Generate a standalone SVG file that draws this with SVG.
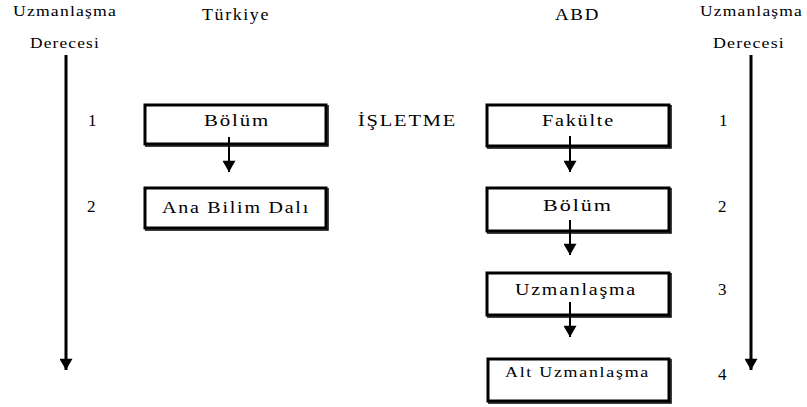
<svg xmlns="http://www.w3.org/2000/svg" width="807" height="407" viewBox="0 0 807 407">
<style>
text{font-family:"Liberation Serif","DejaVu Serif",serif;fill:#000;}
.t{font-size:17px;letter-spacing:1.5px;}
.m{font-size:15.5px;letter-spacing:1.5px;}
.s{font-size:15px;letter-spacing:1px;}
.n{font-size:17px;}
.box{fill:#fff;stroke:#000;stroke-width:3;}
.sh{fill:none;stroke:#000;stroke-width:1.5;}
.ln{stroke:#000;fill:none;}
</style>
<defs>
<marker id="ahv" markerUnits="userSpaceOnUse" markerWidth="14" markerHeight="13" refX="12" refY="7" orient="auto" viewBox="0 0 13 14">
<path d="M0,0 L12,7 L0,14 Z" fill="#000"/>
</marker>
</defs>
<rect width="807" height="407" fill="#fff"/>
<g id="labels">
<text class="s" x="13" y="16" textLength="104" lengthAdjust="spacingAndGlyphs">Uzmanlaşma</text>
<text class="s" x="30" y="48" textLength="70" lengthAdjust="spacingAndGlyphs">Derecesi</text>
<text class="s" x="700" y="16" textLength="103" lengthAdjust="spacingAndGlyphs">Uzmanlaşma</text>
<text class="s" x="713" y="48" textLength="72" lengthAdjust="spacingAndGlyphs">Derecesi</text>
<text class="t" x="202" y="20" textLength="68" lengthAdjust="spacingAndGlyphs">Türkiye</text>
<text class="t" x="555" y="20" textLength="45" lengthAdjust="spacingAndGlyphs">ABD</text>
<text class="t" x="358" y="126" textLength="99" lengthAdjust="spacingAndGlyphs">İŞLETME</text>
<text class="n" x="88" y="126">1</text>
<text class="n" x="87" y="212">2</text>
<text class="n" x="719" y="126">1</text>
<text class="n" x="718" y="212">2</text>
<text class="n" x="718" y="295">3</text>
<text class="n" x="718" y="380">4</text>
</g>
<g id="connectors">
<line class="ln" x1="66" y1="55" x2="66" y2="370" stroke-width="3" marker-end="url(#ahv)"/>
<line class="ln" x1="751" y1="55" x2="751" y2="370" stroke-width="3" marker-end="url(#ahv)"/>
<line class="ln" x1="229" y1="137" x2="229" y2="172" stroke-width="2" marker-end="url(#ahv)"/>
<line class="ln" x1="570" y1="136" x2="570" y2="172" stroke-width="2" marker-end="url(#ahv)"/>
<line class="ln" x1="570" y1="220" x2="570" y2="255" stroke-width="2" marker-end="url(#ahv)"/>
<line class="ln" x1="570" y1="302" x2="570" y2="337" stroke-width="2" marker-end="url(#ahv)"/>
</g>
<g id="tr-bolum">
<rect class="box" x="145" y="105" width="181" height="39" style="fill:none"/>
<polyline class="sh" points="328,105 328,146 145,146"/>
<text class="t" x="204" y="126" textLength="66" lengthAdjust="spacingAndGlyphs">Bölüm</text>
</g>
<g id="tr-anabilim">
<rect class="box" x="145" y="188" width="181" height="40"/>
<polyline class="sh" points="328,188 328,230 145,230"/>
<text class="t" x="162" y="213" textLength="148" lengthAdjust="spacingAndGlyphs">Ana Bilim Dalı</text>
</g>
<g id="abd-fakulte">
<rect class="box" x="487" y="105" width="182" height="41" style="fill:none"/>
<polyline class="sh" points="671,105 671,148 487,148"/>
<text class="t" x="542" y="126" textLength="73" lengthAdjust="spacingAndGlyphs">Fakülte</text>
</g>
<g id="abd-bolum">
<rect class="box" x="487" y="188" width="182" height="43" style="fill:none"/>
<polyline class="sh" points="671,188 671,233 487,233"/>
<text class="t" x="543" y="211" textLength="70" lengthAdjust="spacingAndGlyphs">Bölüm</text>
</g>
<g id="abd-uzmanlasma">
<rect class="box" x="487" y="273" width="182" height="42" style="fill:none"/>
<polyline class="sh" points="671,273 671,317 487,317"/>
<text class="t" x="515" y="295" textLength="122" lengthAdjust="spacingAndGlyphs">Uzmanlaşma</text>
</g>
<g id="abd-altuzmanlasma">
<rect class="box" x="488" y="359" width="181" height="42"/>
<polyline class="sh" points="671,359 671,403 488,403"/>
<text class="m" x="505" y="377" textLength="145" lengthAdjust="spacingAndGlyphs">Alt Uzmanlaşma</text>
</g>
</svg>
